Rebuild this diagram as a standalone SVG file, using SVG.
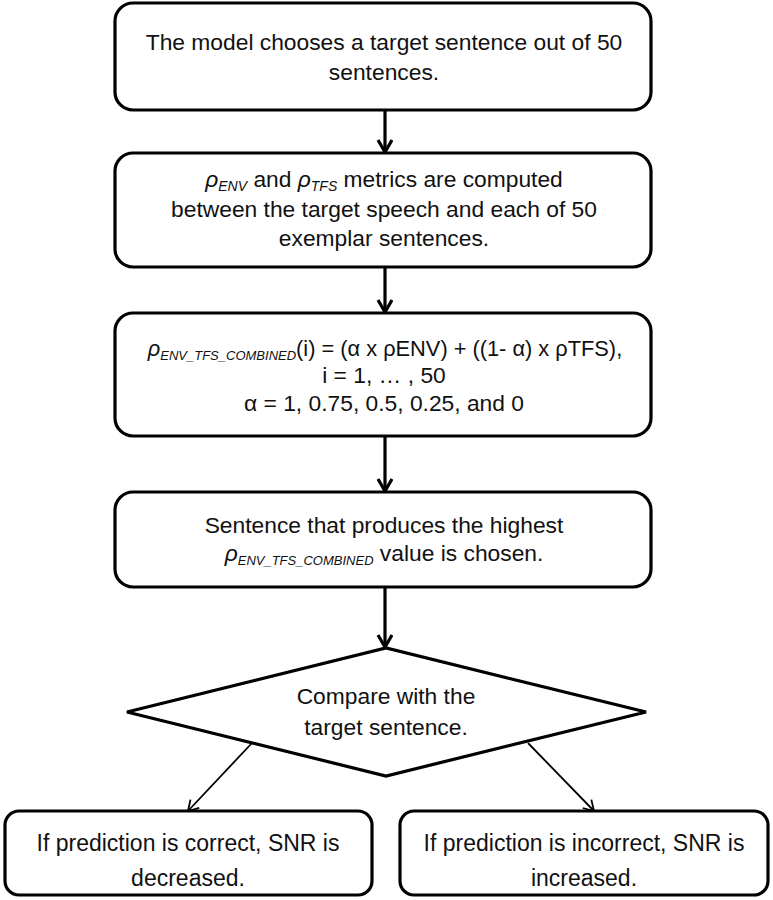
<svg xmlns="http://www.w3.org/2000/svg" width="773" height="900" viewBox="0 0 773 900">
<style>
.box{fill:#fff;stroke:#000;stroke-width:3.2}
.t{font-family:"Liberation Sans",Arial,sans-serif;font-size:22.8px;fill:#111;text-anchor:middle}
.tb{font-family:"Liberation Sans",Arial,sans-serif;font-size:23px;fill:#111;text-anchor:middle}
.i{font-style:italic}
.sub{font-style:italic;font-size:14px}
.sub2{font-style:italic;font-size:13px}
.c{fill:none;stroke:#000;stroke-width:3.2}
.d{fill:none;stroke:#000;stroke-width:1.8}
</style>
<defs>
<marker id="ah" markerUnits="userSpaceOnUse" markerWidth="20" markerHeight="20" refX="13" refY="8" orient="auto">
<path d="M1,1 L13,8 L1,15" fill="none" stroke="#000" stroke-width="3.2"/>
</marker>
<marker id="ah2" markerUnits="userSpaceOnUse" markerWidth="16" markerHeight="16" refX="11" refY="7" orient="auto">
<path d="M1,1 L11,7 L1,13" fill="none" stroke="#000" stroke-width="1.8"/>
</marker>
</defs>
<g id="connectors">
<line class="c" x1="385" y1="110" x2="385" y2="152" marker-end="url(#ah)"/>
<line class="c" x1="385" y1="267" x2="385" y2="312" marker-end="url(#ah)"/>
<line class="c" x1="385" y1="436" x2="385" y2="491" marker-end="url(#ah)"/>
<line class="c" x1="385" y1="587" x2="385" y2="647" marker-end="url(#ah)"/>
<line class="d" x1="252" y1="743" x2="188" y2="811" marker-end="url(#ah2)"/>
<line class="d" x1="528" y1="743" x2="594" y2="811" marker-end="url(#ah2)"/>
</g>
<g id="n1">
<rect class="box" x="115" y="3" width="536" height="107" rx="18"/>
<text class="t" x="384" y="50">The model chooses a target sentence out of 50</text>
<text class="t" x="384" y="80">sentences.</text>
</g>
<g id="n2">
<rect class="box" x="115" y="153" width="536" height="114" rx="18"/>
<text class="t" x="384" y="187"><tspan class="i">ρ</tspan><tspan class="sub" dy="4">ENV</tspan><tspan dy="-4"> and </tspan><tspan class="i">ρ</tspan><tspan class="sub" dy="4">TFS</tspan><tspan dy="-4"> metrics are computed</tspan></text>
<text class="t" x="384" y="217">between the target speech and each of 50</text>
<text class="t" x="384" y="246">exemplar sentences.</text>
</g>
<g id="n3">
<rect class="box" x="115" y="313" width="536" height="123" rx="18"/>
<text class="t" x="385" y="356" style="font-size:21.8px"><tspan class="i">ρ</tspan><tspan class="sub2" dy="4">ENV_TFS_COMBINED</tspan><tspan dy="-4">(i) = (α x ρENV) + ((1- α) x ρTFS),</tspan></text>
<text class="t" x="384" y="383">i = 1, … , 50</text>
<text class="t" x="384" y="411">α = 1, 0.75, 0.5, 0.25, and 0</text>
</g>
<g id="n4">
<rect class="box" x="115" y="492" width="536" height="95" rx="18"/>
<text class="t" x="384" y="533">Sentence that produces the highest</text>
<text class="t" x="384" y="561"><tspan class="i">ρ</tspan><tspan class="sub2" dy="4">ENV_TFS_COMBINED</tspan><tspan dy="-4"> value is chosen.</tspan></text>
</g>
<g id="n5">
<polygon class="box" points="127,712 386,648 646,712 386,776"/>
<text class="t" x="386" y="704">Compare with the</text>
<text class="t" x="386" y="735">target sentence.</text>
</g>
<g id="n6">
<rect class="box" x="5" y="811" width="367" height="84" rx="14"/>
<text class="tb" x="188" y="851">If prediction is correct, SNR is</text>
<text class="tb" x="188" y="886">decreased.</text>
</g>
<g id="n7">
<rect class="box" x="400" y="811" width="368" height="84" rx="14"/>
<text class="tb" x="584" y="851">If prediction is incorrect, SNR is</text>
<text class="tb" x="584" y="886">increased.</text>
</g>
</svg>
